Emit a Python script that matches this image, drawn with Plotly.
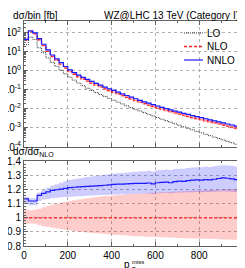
import plotly.graph_objects as go

# ---------------- data ----------------
bin_edges = list(range(0, 1001, 20))  # p_T^miss bins [GeV]

# NNLO dσ/bin [fb]
nnlo = [45, 126, 100, 50, 25, 12.6, 6.8, 4.3, 2.7, 1.7,
        1.12, 0.81, 0.60, 0.457, 0.355, 0.279, 0.221, 0.178, 0.141, 0.115,
        0.0933, 0.0759, 0.0617, 0.0507, 0.0417, 0.0343, 0.0285, 0.0237, 0.0200, 0.0168,
        0.0143, 0.0122, 0.0105, 0.00902, 0.00776, 0.00676, 0.00589, 0.00513, 0.00447, 0.00394,
        0.00347, 0.00305, 0.00269, 0.00237, 0.00209, 0.00184, 0.00162, 0.00143, 0.00126, 0.00118]

# NNLO / NLO (lower panel line)
k_nnlo = [1.135, 1.12, 1.12, 1.16, 1.175, 1.185, 1.195, 1.20, 1.205, 1.21,
          1.215, 1.218, 1.22, 1.222, 1.224, 1.226, 1.228, 1.23, 1.232, 1.235,
          1.238, 1.24, 1.24, 1.242, 1.243, 1.245, 1.245, 1.246, 1.248, 1.242,
          1.25, 1.252, 1.255, 1.25, 1.258, 1.262, 1.26, 1.265, 1.268, 1.27,
          1.268, 1.272, 1.27, 1.275, 1.28, 1.285, 1.282, 1.278, 1.272, 1.30]

# LO dσ/bin [fb]
lo = [24, 59, 45, 16.2, 8.9, 4.8, 2.8, 1.74, 1.07, 0.69,
      0.468, 0.324, 0.229, 0.166, 0.123, 0.0933, 0.0724, 0.0569, 0.0452, 0.0359,
      0.0288, 0.0229, 0.0182, 0.0146, 0.0117, 0.00955, 0.00776, 0.00631, 0.00519, 0.00427,
      0.00351, 0.00288, 0.00240, 0.00200, 0.00166, 0.00138, 0.00115, 0.000955, 0.000794, 0.000661,
      0.000556, 0.000468, 0.000394, 0.000331, 0.000279, 0.000234, 0.000197, 0.000166, 0.000140, 0.000117]

# NLO scale band relative to NLO
nlo_up = [1.06, 1.055, 1.058, 1.065, 1.075, 1.085, 1.095, 1.10, 1.11, 1.115,
          1.12, 1.125, 1.13, 1.135, 1.14, 1.145, 1.148, 1.152, 1.155, 1.158,
          1.16, 1.163, 1.165, 1.168, 1.17, 1.172, 1.174, 1.176, 1.178, 1.178,
          1.18, 1.182, 1.184, 1.185, 1.187, 1.188, 1.19, 1.191, 1.193, 1.194,
          1.195, 1.197, 1.198, 1.20, 1.201, 1.202, 1.204, 1.205, 1.206, 1.208]
nlo_dn = [0.955, 0.96, 0.958, 0.95, 0.94, 0.935, 0.93, 0.925, 0.92, 0.915,
          0.91, 0.906, 0.902, 0.899, 0.896, 0.893, 0.89, 0.888, 0.885, 0.883,
          0.88, 0.878, 0.876, 0.874, 0.872, 0.87, 0.869, 0.868, 0.866, 0.865,
          0.864, 0.862, 0.861, 0.86, 0.858, 0.857, 0.856, 0.855, 0.854, 0.853,
          0.852, 0.851, 0.85, 0.849, 0.848, 0.847, 0.846, 0.845, 0.844, 0.842]

# NNLO scale band relative to NLO
nnlo_up = [1.15, 1.14, 1.14, 1.18, 1.20, 1.215, 1.23, 1.24, 1.25, 1.26,
           1.27, 1.275, 1.28, 1.285, 1.29, 1.295, 1.30, 1.303, 1.306, 1.31,
           1.315, 1.318, 1.32, 1.323, 1.325, 1.328, 1.33, 1.332, 1.335, 1.33,
           1.338, 1.34, 1.345, 1.34, 1.348, 1.35, 1.35, 1.355, 1.358, 1.36,
           1.36, 1.365, 1.362, 1.368, 1.37, 1.375, 1.372, 1.37, 1.365, 1.385]
nnlo_dn = [1.10, 1.09, 1.09, 1.12, 1.13, 1.135, 1.14, 1.143, 1.146, 1.148,
           1.15, 1.152, 1.154, 1.156, 1.158, 1.16, 1.161, 1.162, 1.163, 1.165,
           1.166, 1.167, 1.168, 1.169, 1.17, 1.171, 1.172, 1.173, 1.174, 1.17,
           1.175, 1.176, 1.178, 1.175, 1.179, 1.18, 1.18, 1.182, 1.183, 1.184,
           1.183, 1.185, 1.184, 1.186, 1.188, 1.19, 1.188, 1.186, 1.183, 1.20]

x_ticks = [0, 200, 400, 600, 800]
log_ticks = [1e-4, 1e-3, 1e-2, 1e-1, 1, 10, 100]
log_labels = ["10<sup>-4</sup>", "10<sup>-3</sup>", "10<sup>-2</sup>", "10<sup>-1</sup>",
              "10<sup>0</sup>", "10<sup>1</sup>", "10<sup>2</sup>"]
ratio_ticks = [0.8, 0.9, 1.0, 1.1, 1.2, 1.3, 1.4]
ratio_labels = ["0.8", "0.9", "1", "1.1", "1.2", "1.3", "1.4"]

# ---------------- derived ----------------
nlo = [a / b for a, b in zip(nnlo, k_nnlo)]
nlo_ratio = [v / v for v in nlo]


def step(vals):
    return list(vals) + [vals[-1]]


X = bin_edges
FONT = "Liberation Sans, Arial, sans-serif"
PINK = "rgba(255,0,0,0.2)"
LBLUE = "rgba(0,0,255,0.2)"
RED = "#ff2020"
BLUE = "#1a1aff"
GREY = "#303030"
LO_DASH = "1px,1px"
NLO_DASH = "3px,2px"

fig = go.Figure()


def band(lower, upper, color, xa, ya):
    fig.add_trace(go.Scatter(x=X, y=step(lower), mode="lines", line=dict(width=0, shape="hv"),
                             xaxis=xa, yaxis=ya, showlegend=False, hoverinfo="skip"))
    fig.add_trace(go.Scatter(x=X, y=step(upper), mode="lines", line=dict(width=0, shape="hv"),
                             fill="tonexty", fillcolor=color,
                             xaxis=xa, yaxis=ya, showlegend=False, hoverinfo="skip"))


# top panel
band([n * d for n, d in zip(nlo, nlo_dn)], [n * u for n, u in zip(nlo, nlo_up)], PINK, "x", "y")
band([n * d for n, d in zip(nlo, nnlo_dn)], [n * u for n, u in zip(nlo, nnlo_up)], LBLUE, "x", "y")
fig.add_trace(go.Scatter(x=X, y=step(lo), mode="lines", name="LO",
                         line=dict(color=GREY, width=1, dash=LO_DASH, shape="hv"), xaxis="x", yaxis="y"))
fig.add_trace(go.Scatter(x=X, y=step(nlo), mode="lines", name="NLO",
                         line=dict(color=RED, width=1.3, dash=NLO_DASH, shape="hv"), xaxis="x", yaxis="y"))
fig.add_trace(go.Scatter(x=X, y=step(nnlo), mode="lines", name="NNLO",
                         line=dict(color=BLUE, width=1.2, shape="hv"), xaxis="x", yaxis="y"))

# ratio panel
band(nlo_dn, nlo_up, PINK, "x2", "y2")
band(nnlo_dn, nnlo_up, LBLUE, "x2", "y2")
fig.add_trace(go.Scatter(x=X, y=step(nlo_ratio), mode="lines",
                         line=dict(color=RED, width=1.3, dash=NLO_DASH, shape="hv"), xaxis="x2", yaxis="y2"))
fig.add_trace(go.Scatter(x=X, y=step(k_nnlo), mode="lines",
                         line=dict(color=BLUE, width=1.2, shape="hv"), xaxis="x2", yaxis="y2"))

axis_common = dict(showline=True, linecolor="#606060", linewidth=1, mirror="allticks",
                   ticks="inside", tickcolor="#606060", ticklen=4, automargin=False,
                   showgrid=True, gridcolor="#b0b0b0", griddash="dot", gridwidth=1,
                   zeroline=False, tickfont=dict(family=FONT, size=10, color="black"))

fig.update_layout(
    width=245, height=268,
    margin=dict(l=16, r=10, t=13, b=30, autoexpand=False),
    paper_bgcolor="white", plot_bgcolor="white",
    showlegend=False,
    font=dict(family=FONT, size=10, color="black"),
    xaxis=dict(axis_common, anchor="y", domain=[0, 1], range=[0, 1000],
               tickvals=x_ticks, showticklabels=False,
               minor=dict(ticks="inside", ticklen=2, dtick=100, tickcolor="#606060")),
    yaxis=dict(axis_common, anchor="x", domain=[0.44, 1], type="log", range=[-4, 2.62],
               tickvals=log_ticks, ticktext=log_labels, ticklabelstandoff=0,
               tickfont=dict(family=FONT, size=10, color="black"),
               minor=dict(ticks="inside", ticklen=2, tickcolor="#606060",
                          tickvals=[m * 10 ** e for e in range(-4, 3) for m in range(2, 10)])),
    xaxis2=dict(axis_common, anchor="y2", domain=[0, 1], range=[0, 1000],
                tickvals=x_ticks,
                minor=dict(ticks="inside", ticklen=2, dtick=100, tickcolor="#606060")),
    yaxis2=dict(axis_common, anchor="x2", domain=[0, 0.378], range=[0.8, 1.405],
                tickvals=ratio_ticks, ticktext=ratio_labels,
                minor=dict(ticks="inside", ticklen=2, dtick=0.02, tickcolor="#606060")),
)


def px_x(p):
    return (p - 16) / 219.0


def px_y(p):
    return (238 - p) / 225.0


ann = [
    dict(text="dσ/bin [fb]", x=4, y=7, size=10, xa="left"),
    dict(text="dσ/dσ<sub>NLO</sub>", x=4, y=144, size=10, xa="left"),
    dict(text="LO", x=198, y=25, size=10, xa="left"),
    dict(text="NLO", x=198, y=38.5, size=10, xa="left"),
    dict(text="NNLO", x=198, y=52, size=10, xa="left"),
    dict(text="WZ@LHC 13 TeV (Category I)", x=232, y=7, size=10, xa="right"),
    # x-axis title p_T^miss (stacked sub/superscript)
    dict(text="p", x=123, y=256.5, size=10, xa="right"),
    dict(text="miss", x=122.5, y=253.5, size=6, xa="left"),
    dict(text="T", x=122.5, y=260.5, size=6, xa="left"),
]
for a in ann:
    fig.add_annotation(xref="paper", yref="paper", showarrow=False, xanchor=a["xa"],
                       yanchor="middle", x=px_x(a["x"]), y=px_y(a["y"]), text=a["text"],
                       borderpad=0,
                       font=dict(family=FONT, size=a["size"], color="black"))

legend_lines = [(25, GREY, LO_DASH, 1), (38.5, RED, NLO_DASH, 1.3), (52, BLUE, "solid", 1.2)]
for yy, col, dash, w in legend_lines:
    fig.add_shape(type="line", xref="paper", yref="paper",
                  x0=px_x(176), x1=px_x(195), y0=px_y(yy), y1=px_y(yy),
                  line=dict(color=col, width=w, dash=dash))

fig.write_html("out.html")
